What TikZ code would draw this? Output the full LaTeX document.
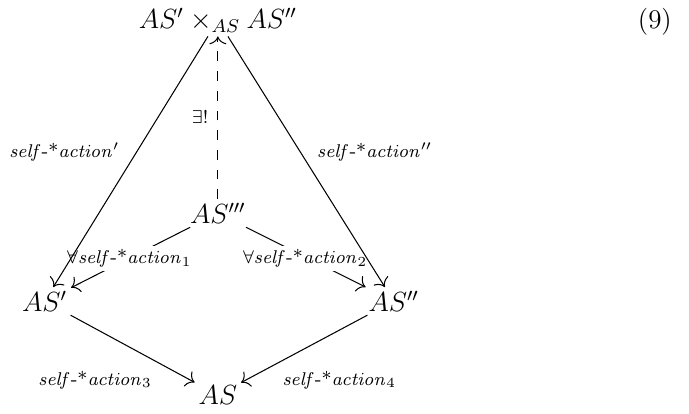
\documentclass[tikz,border=0pt]{standalone}
\usepackage{amsmath}
\usetikzlibrary{arrows.meta, positioning}

\newcommand{\selfact}{\mathit{self}\text{-*}\mathit{action}}

\begin{document}
\begin{tikzpicture}[
  obj/.style={inner sep=1.5pt, font=\fontsize{11.7}{14}\selectfont},
  act/.style={-{To[length=1.2mm, width=2.6mm]}, line width=0.45pt, black},
  uniq/.style={act, dash pattern=on 1.5mm off 1.5mm},
  lbl/.style={font=\fontsize{8.2}{10}\selectfont, inner sep=1pt},
  cut/.style={lbl, fill=white, inner sep=1.5pt}
]
\useasboundingbox (0,0) rectangle (10.5,6.309);

% Objects
\node[obj] (prod) at (3.32,6.00) {$AS' \times_{AS} AS''$};
\node[obj] (cone) at (3.32,3.06) {$AS'''$};
\node[obj] (left) at (0.68,1.72) {$AS'$};
\node[obj] (right) at (6.00,1.72) {$AS''$};
\node[obj] (base) at (3.32,0.29) {$AS$};
\node[obj] (eqno) at (9.98,5.97) {(9)};

% Actions out of AS''' (labels break their own arrow)
\draw[act] (cone) -- (left);
\draw[act] (cone) -- (right);
\node[cut] (a1) at (1.97,2.37) {$\forall\selfact_1$};
\node[cut] (a2) at (4.65,2.37) {$\forall\selfact_2$};

% Projections of the product
\draw[act] (prod) -- (left);
\draw[act] (prod) -- (right);
\node[lbl] (pl) at (0.98,3.99) {$\selfact'$};
\node[lbl] (pr) at (5.71,3.99) {$\selfact''$};

% Unique mediating arrow
\draw[uniq] (cone) -- (prod);
\node[lbl] (ex) at (3.05,4.53) {$\exists!$};

% Actions into AS
\draw[act] (left) -- (base);
\draw[act] (right) -- (base);
\node[lbl] (a3) at (1.45,0.52) {$\selfact_3$};
\node[lbl] (a4) at (5.17,0.52) {$\selfact_4$};

\end{tikzpicture}
\end{document}
